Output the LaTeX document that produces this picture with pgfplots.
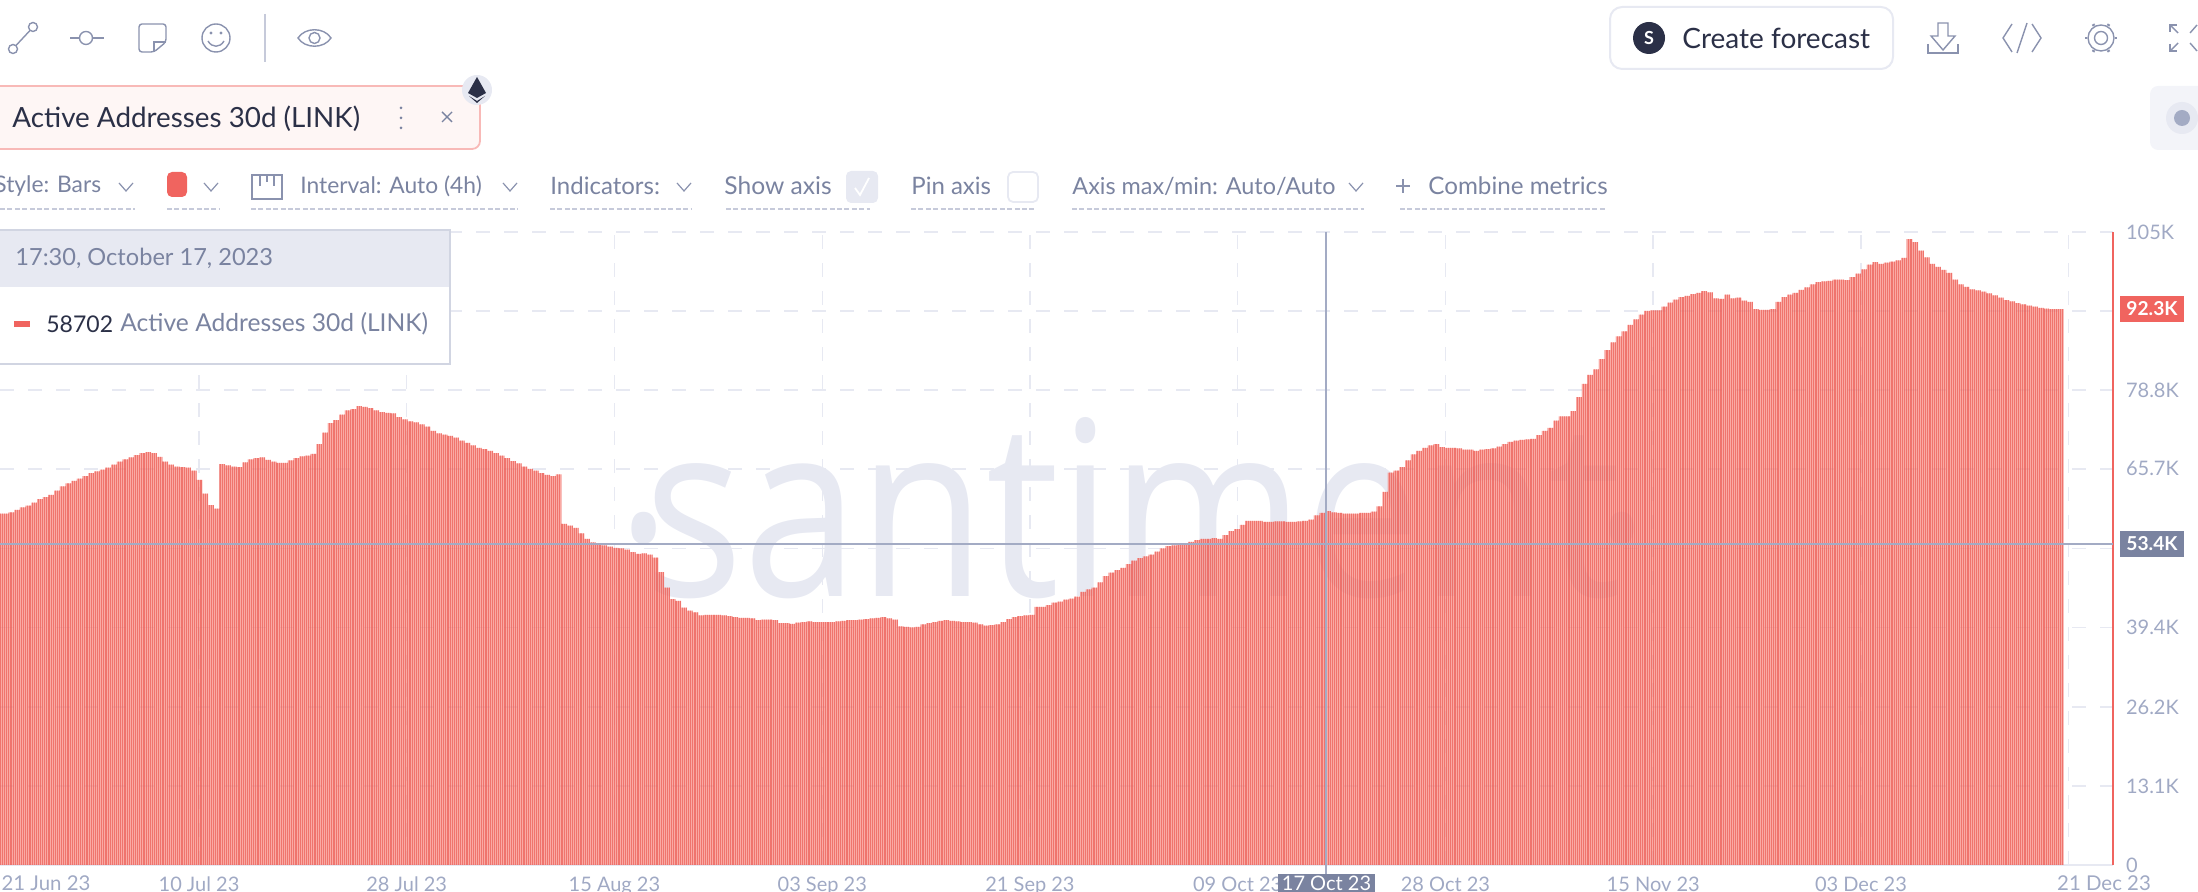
\documentclass[border=0pt]{standalone}
\usepackage{pgfplots}
\pgfplotsset{compat=1.18}
\usepackage{pgfplotstable}
\usepackage{fontspec}
\setmainfont{Lato}
\newfontfamily\wmfont{Open Sans}
\usetikzlibrary{patterns}
\definecolor{barlight}{HTML}{F8867D}
\definecolor{bardark}{HTML}{EA5D57}
\definecolor{santired}{HTML}{F0645F}
\definecolor{tick}{HTML}{A0A9C4}
\definecolor{ui}{HTML}{7A83A0}
\definecolor{icon}{HTML}{8A92AE}
\definecolor{pale}{HTML}{E7E9F2}
\definecolor{ink}{HTML}{2B3047}
\definecolor{cross}{HTML}{A3ABC4}
\pgfdeclarepatternformonly{barstripes}{\pgfqpoint{-0.1pt}{-0.1pt}}{\pgfqpoint{1pt}{1pt}}{\pgfqpoint{0.95pt}{1pt}}{%
  \pgfpathrectangle{\pgfqpoint{0pt}{-0.1pt}}{\pgfqpoint{0.46pt}{1.2pt}}\pgfusepath{fill}}
\pgfplotstableread[row sep=\\,header=false]{
58.3\\58.3\\58.5\\58.9\\59.3\\59.6\\60.1\\60.7\\61.0\\61.4\\62.1\\62.8\\63.3\\63.7\\64.1\\64.5\\65.0\\65.3\\65.6\\65.9\\
66.4\\66.9\\67.3\\67.6\\68.0\\68.3\\68.5\\68.3\\67.7\\66.9\\66.4\\66.1\\66.0\\65.9\\65.4\\63.9\\61.6\\59.7\\59.1\\66.5\\
66.3\\66.1\\66.0\\66.8\\67.3\\67.5\\67.6\\67.2\\66.9\\66.7\\66.7\\67.1\\67.5\\67.8\\67.9\\68.2\\69.8\\71.7\\73.3\\73.8\\
74.7\\75.4\\75.6\\76.1\\76.0\\75.8\\75.4\\75.1\\75.0\\74.9\\74.3\\73.9\\73.6\\73.4\\73.1\\72.7\\72.0\\71.6\\71.4\\71.2\\
70.9\\70.4\\70.0\\69.6\\69.2\\69.0\\68.7\\68.3\\67.9\\67.5\\67.0\\66.6\\66.1\\65.7\\65.4\\65.0\\64.7\\64.5\\64.8\\56.6\\
56.3\\55.9\\55.0\\54.1\\53.5\\53.3\\53.0\\52.8\\52.6\\52.5\\52.3\\51.9\\51.6\\51.7\\51.5\\51.0\\48.6\\46.0\\44.1\\43.8\\
42.7\\42.2\\41.9\\41.4\\41.5\\41.5\\41.5\\41.4\\41.3\\41.1\\41.0\\41.0\\40.9\\40.6\\40.7\\40.7\\40.6\\40.1\\40.1\\40.0\\
40.2\\40.3\\40.4\\40.3\\40.3\\40.3\\40.3\\40.4\\40.5\\40.6\\40.6\\40.7\\40.8\\40.9\\41.0\\41.1\\40.9\\40.7\\39.6\\39.5\\
39.4\\39.5\\39.9\\40.1\\40.3\\40.5\\40.6\\40.5\\40.4\\40.3\\40.3\\40.2\\39.9\\39.7\\39.8\\39.9\\40.3\\40.8\\41.1\\41.3\\
41.4\\41.5\\42.8\\42.8\\43.1\\43.5\\43.7\\44.0\\44.2\\44.5\\45.3\\45.7\\46.0\\46.9\\47.9\\48.5\\48.9\\49.3\\49.9\\50.5\\
50.9\\51.2\\51.5\\52.0\\52.5\\52.9\\53.0\\53.2\\53.3\\53.6\\53.9\\54.1\\54.1\\54.2\\54.1\\54.7\\55.4\\55.7\\56.4\\57.1\\
57.1\\57.1\\56.9\\56.9\\57.0\\57.0\\56.9\\56.9\\57.0\\57.1\\57.3\\58.0\\58.4\\58.7\\58.5\\58.4\\58.3\\58.3\\58.3\\58.4\\
58.4\\58.6\\59.5\\61.9\\65.1\\65.4\\66.0\\67.1\\68.1\\68.7\\69.2\\69.6\\69.8\\69.3\\69.2\\69.2\\69.1\\68.9\\68.9\\68.7\\
68.9\\69.0\\69.1\\69.4\\69.8\\70.2\\70.4\\70.5\\70.6\\70.7\\71.3\\72.0\\72.5\\73.7\\74.4\\74.4\\75.3\\77.6\\79.8\\81.3\\
82.2\\83.9\\85.4\\86.7\\87.7\\88.5\\89.6\\90.5\\91.3\\91.9\\92.0\\92.0\\92.6\\93.3\\93.8\\94.2\\94.4\\94.7\\94.9\\95.2\\
95.0\\94.0\\93.9\\94.6\\94.0\\94.1\\93.6\\93.4\\92.2\\92.1\\92.1\\92.2\\93.4\\94.2\\94.6\\94.9\\95.4\\95.8\\96.3\\96.7\\
96.8\\96.9\\97.1\\97.1\\97.0\\97.5\\98.1\\98.8\\99.6\\100.0\\99.7\\99.9\\100.1\\100.3\\100.7\\103.8\\103.3\\101.9\\100.8\\99.7\\
99.2\\98.7\\98.2\\97.1\\96.3\\95.9\\95.5\\95.3\\95.1\\94.8\\94.5\\94.1\\93.7\\93.5\\93.2\\93.0\\92.8\\92.6\\92.4\\92.3\\
92.2\\92.2\\92.2\\
}\linkdata
\newcommand{\chev}[2]{\draw[icon,line width=.6pt] (#1-7,#2-4) -- (#1,#2+4) -- (#1+7,#2-4);}
\newcommand{\uline}[2]{\draw[pale!70!ui,line width=.7pt,dash pattern=on 2.5pt off 1.2pt] (#1,209) -- (#2,209);}
\newcommand{\wmtext}{\wmfont\fontsize{122}{122}\selectfont\raisebox{-9pt}{\textperiodcentered}\kern-.13em santiment\kern-.13em\raisebox{-9pt}{\textperiodcentered}}
\begin{document}
\begin{tikzpicture}
\path[use as bounding box] (0pt,0pt) rectangle (1099pt,446pt);
\begin{scope}[shift={(0pt,446pt)},x=0.5pt,y=-0.5pt]
\node[text=pale,anchor=base,inner sep=0pt,xscale=.85,transform shape] at (1133,597) {\wmtext};
\end{scope}
\begin{axis}[
  at={(0pt,13.5pt)},anchor=south west,scale only axis,
  width=1056.5pt,height=316.5pt,
  xmin=1.544,xmax=186.89,ymin=0,ymax=105,
  axis y line*=right,axis x line*=bottom,
  y axis line style={draw=santired,line width=1pt,-},
  x axis line style={draw=pale,line width=1pt,-},
  xtick={19,37.22,55.44,73.67,91.89,110.11,128.33,146.56,164.78,183},
  xticklabels={10 Jul 23,28 Jul 23,15 Aug 23,03 Sep 23,21 Sep 23,09 Oct 23,28 Oct 23,15 Nov 23,03 Dec 23,},
  ytick={0,13.1,26.2,39.4,52.5,65.7,78.8,91.9,105},
  yticklabels={0,13.1K,26.2K,39.4K,,65.7K,78.8K,,105K},
  tick style={draw=none},
  xmajorgrids,ymajorgrids,
  grid style={draw=pale,line width=0.75pt,dash pattern=on 7pt off 7pt},
  tick label style={font=\fontsize{10}{11}\selectfont,text=tick},
  yticklabel style={anchor=west,xshift=3pt},
  xticklabel style={anchor=base,yshift=-13.5pt},
  clip mode=individual,
]
\addplot[const plot mark mid,draw=none,fill=barlight,fill opacity=0.7,
  postaction={pattern=barstripes,pattern color=bardark}]
  table[x expr=1.544+0.5*\coordindex,y index=0] {\linkdata} \closedcycle;
\end{axis}
\begin{scope}[shift={(0pt,446pt)},x=0.5pt,y=-0.5pt]
% end labels of the time axis
\node[text=tick,font=\fontsize{10.2}{11}\selectfont,anchor=base] at (46,891) {21 Jun 23};
\node[text=tick,font=\fontsize{10.2}{11}\selectfont,anchor=base] at (2104,891) {21 Dec 23};
% crosshair
\draw[cross,line width=1pt] (1326,232) -- (1326,874);
\draw[cross,line width=1pt] (0,544) -- (2113,544);
\fill[ui] (1278,874) rectangle (1375,892);
\node[text=white,font=\fontsize{10}{11}\selectfont,anchor=base] at (1326.5,891) {17 Oct 23};
\fill[ui] (2120,531) rectangle (2184,557);
\node[text=white,font=\bfseries\fontsize{9.6}{11}\selectfont] at (2152,544) {53.4K};
\fill[santired] (2120,296) rectangle (2184,322);
\node[text=white,font=\bfseries\fontsize{9.6}{11}\selectfont] at (2152,309) {92.3K};
% tooltip
\fill[white] (-4,230) rectangle (450,364);
\fill[pale] (-4,230) rectangle (450,287);
\draw[pale!80!ui,line width=.6pt] (-4,230) rectangle (450,364);
\node[text=ui,font=\fontsize{11.8}{13}\selectfont,anchor=west,inner sep=0pt] at (15,258) {17:30, October 17, 2023};
\fill[santired] (14,321) rectangle (30,327);
\node[text=ink,font=\fontsize{11.5}{13}\selectfont,anchor=west,inner sep=0pt] at (46,324) {58702};
\node[text=ui,font=\fontsize{12.3}{13}\selectfont,anchor=west,inner sep=0pt] at (120,324) {Active Addresses 30d (LINK)};
% top icons
\begin{scope}[icon,line width=.7pt]
\draw (13,49) circle[radius=4.5]; \draw (33,27) circle[radius=4.5]; \draw (16,45.5) -- (30,30.5);
\draw (70,38) -- (79,38); \draw (93,38) -- (104,38); \draw (86,38) circle[radius=6.5];
\draw[rounded corners=1.5pt] (139,24) -- (166,24) -- (166,42) -- (154,52) -- (139,52) -- cycle;
\draw (154,52) -- (154,42) -- (166,42);
\draw (216,38) circle[radius=14];
\fill (211,33) circle[radius=1.7]; \fill (221,33) circle[radius=1.7];
\draw (208,41) .. controls (212,48) and (220,48) .. (224,41);
\draw[pale!70!ui] (265,14) -- (265,62);
\draw (298,38) .. controls (305,27) and (324,27) .. (331,38) .. controls (324,49) and (305,49) .. (298,38) -- cycle;
\draw (314.5,38) circle[radius=5.5];
% right icons
\draw (1938,23) -- (1948,23) -- (1948,36) -- (1955,36) -- (1943,50) -- (1931,36) -- (1938,36) -- cycle;
\draw (1928,44) -- (1928,53) -- (1958,53) -- (1958,44);
\draw (2012,24) -- (2003,38) -- (2012,52);
\draw (2032,24) -- (2041,38) -- (2032,52);
\draw (2027,23) -- (2017,53);
\draw (2101,38) circle[radius=6.5];
\draw (2101,38) circle[radius=13];
\foreach \a in {0,60,...,300} {\draw[line width=1.4pt] ({2101+14*cos(\a)},{38+14*sin(\a)}) -- ({2101+16*cos(\a)},{38+16*sin(\a)});}
\draw (2170,32) -- (2170,25) -- (2177,25); \draw (2170,25) -- (2178,33);
\draw (2197,25) -- (2190,33);
\draw (2170,44) -- (2170,51) -- (2177,51); \draw (2170,51) -- (2178,43);
\draw (2197,51) -- (2190,43);
\end{scope}
% create forecast
\draw[pale,line width=1pt,rounded corners=6pt,fill=white] (1610,7) rectangle (1893,69);
\fill[ink] (1649,38) circle[radius=16];
\node[text=white,font=\bfseries\fontsize{9}{10}\selectfont] at (1649,38) {S};
\node[text=ink,font=\fontsize{14}{15}\selectfont,anchor=west,inner sep=0pt] at (1682,38.5) {Create forecast};
% side button
\fill[pale!50!white,rounded corners=4pt] (2150,86) rectangle (2210,150);
\fill[pale] (2182,118) circle[radius=16];
\fill[cross] (2182,118) circle[radius=8];
% metric tag
\draw[santired!45!white,line width=.9pt,fill=santired!6!white,rounded corners=4pt] (-10,86) rectangle (480,149);
\node[text=ink,font=\fontsize{13.9}{15}\selectfont,anchor=west,inner sep=0pt] at (12,118.5) {Active Addresses 30d (LINK)};
\foreach \y in {108,118,128} {\fill[ui] (401,\y) circle[radius=1.5];}
\draw[ui,line width=.7pt] (442,112) -- (452,122); \draw[ui,line width=.7pt] (452,112) -- (442,122);
\fill[pale] (477,90) circle[radius=15];
\fill[ink] (477,77) -- (486,93) -- (477,98) -- (468,93) -- cycle;
\fill[ink] (469,96) -- (477,101) -- (485,96) -- (477,103) -- cycle;
% controls row
\begin{scope}[every node/.style={text=ui,font=\fontsize{11.4}{13}\selectfont,anchor=west,inner sep=0pt}]
\node at (-6,186) {Style: Bars}; \chev{126}{187}
\fill[santired,rounded corners=2.5pt] (167,172) rectangle (187,197); \chev{211}{187}
\draw[icon,line width=.7pt] (252,175) rectangle (282,199);
\draw[icon,line width=.7pt] (260,175) -- (260,186) (267,175) -- (267,182) (274,175) -- (274,186);
\node at (300,186) {Interval: Auto (4h)}; \chev{510}{187}
\node[font=\fontsize{12}{13}\selectfont] at (550,186) {Indicators:}; \chev{684}{187}
\node[font=\fontsize{12.3}{13}\selectfont] at (724,186) {Show axis};
\fill[pale,rounded corners=2.5pt] (846,171) rectangle (878,203);
\draw[white,line width=.9pt] (855,188) -- (860,195) -- (869,178);
\node[font=\fontsize{12}{13}\selectfont] at (911,186) {Pin axis};
\draw[pale,line width=.9pt,rounded corners=2.5pt] (1008,172) rectangle (1038,202);
\node[font=\fontsize{11.7}{13}\selectfont] at (1072,186) {Axis max/min: Auto/Auto}; \chev{1356}{187}
\draw[icon,line width=.7pt] (1396,186) -- (1410,186) (1403,179) -- (1403,193);
\node[font=\fontsize{12.1}{13}\selectfont] at (1428,186) {Combine metrics};
\end{scope}
\uline{0}{135}\uline{167}{219}\uline{251}{518}\uline{550}{692}\uline{726}{870}\uline{911}{1034}\uline{1072}{1364}\uline{1400}{1606}
\end{scope}
\end{tikzpicture}
\end{document}
